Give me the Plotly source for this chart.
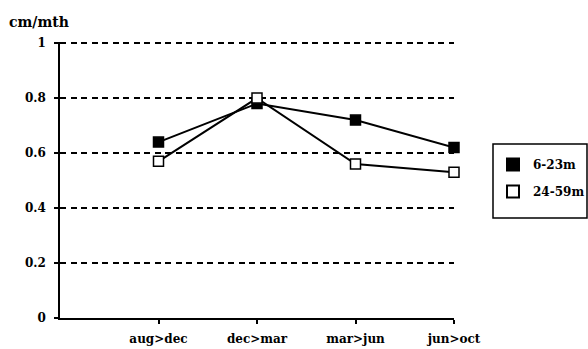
import plotly.graph_objects as go

periods = ["aug>dec", "dec>mar", "mar>jun", "jun>oct"]
series_names = ["6-23m", "24-59m"]
growth_6_23 = [0.64, 0.78, 0.72, 0.62]
growth_24_59 = [0.57, 0.80, 0.56, 0.53]
y_ticks = [0, 0.2, 0.4, 0.6, 0.8, 1]
y_ticklabels = ["0", "0.2", "0.4", "0.6", "0.8", "1"]

FONT = "DejaVu Serif"
W, H = 588, 349
ML, MR, MT, MB = 60, 134, 42, 31
PW, PH = W - ML - MR, H - MT - MB

fig = go.Figure()

series = [
    (series_names[0], growth_6_23, "black"),
    (series_names[1], growth_24_59, "white"),
]

for name, vals, fill in series:
    fig.add_trace(go.Scatter(
        x=periods, y=vals, mode="lines",
        line=dict(color="black", width=2),
        showlegend=False, hoverinfo="skip", cliponaxis=False,
    ))

for name, vals, fill in series:
    fig.add_trace(go.Scatter(
        x=periods, y=vals, mode="markers", name=name, legendgroup=name,
        cliponaxis=False,
        marker=dict(symbol="square", size=10, color=fill,
                    line=dict(color="black", width=1.5)),
    ))

fig.update_layout(
    width=W, height=H,
    margin=dict(l=ML, r=MR, t=MT, b=MB, autoexpand=False),
    paper_bgcolor="white", plot_bgcolor="white",
    font=dict(family=FONT, color="black", size=12),
    showlegend=True,
    legend=dict(
        xref="container", yref="container",
        x=493 / W, y=1 - 150 / H, xanchor="left", yanchor="top",
        borderwidth=0, bgcolor="rgba(0,0,0,0)",
        font=dict(family=FONT, size=12, color="black", weight="bold"),
        tracegroupgap=8, itemsizing="constant",
    ),
    shapes=[dict(
        type="rect", xref="paper", yref="paper",
        x0=(493 - ML) / PW, x1=(587 - ML) / PW,
        y0=(H - MB - 218) / PH, y1=(H - MB - 144) / PH,
        line=dict(color="black", width=1.5), fillcolor="rgba(0,0,0,0)",
        layer="below",
    )],
    xaxis=dict(
        type="category", range=[-1, 3],
        showgrid=False, zeroline=False,
        showline=True, linecolor="black", linewidth=1.5,
        ticks="outside", ticklen=4, tickwidth=1.5, tickcolor="black",
        ticklabelstandoff=5,
        tickfont=dict(family=FONT, size=12, color="black", weight="bold"),
    ),
    yaxis=dict(
        range=[0, 1.004], tickvals=y_ticks, ticktext=y_ticklabels,
        showgrid=True, gridcolor="black", gridwidth=1.5, griddash="6px,4.5px",
        zeroline=False,
        showline=True, linecolor="black", linewidth=1.5,
        ticks="outside", ticklen=4, tickwidth=1.5, tickcolor="black",
        ticklabelstandoff=6,
        tickfont=dict(family=FONT, size=12, color="black", weight="bold"),
    ),
    annotations=[dict(
        text="cm/mth", xref="paper", yref="paper",
        x=-(ML - 7) / PW, y=(H - MB - 22) / PH, xanchor="left", yanchor="middle",
        showarrow=False,
        font=dict(family=FONT, size=14, color="black", weight="bold"),
    )],
)

fig.write_html("out.html", config={"displayModeBar": False})

with open("out.html", "r", encoding="utf-8") as f:
    html = f.read()
html = html.replace("<body>", '<body style="margin:0;padding:0;overflow:hidden">', 1)
with open("out.html", "w", encoding="utf-8") as f:
    f.write(html)
